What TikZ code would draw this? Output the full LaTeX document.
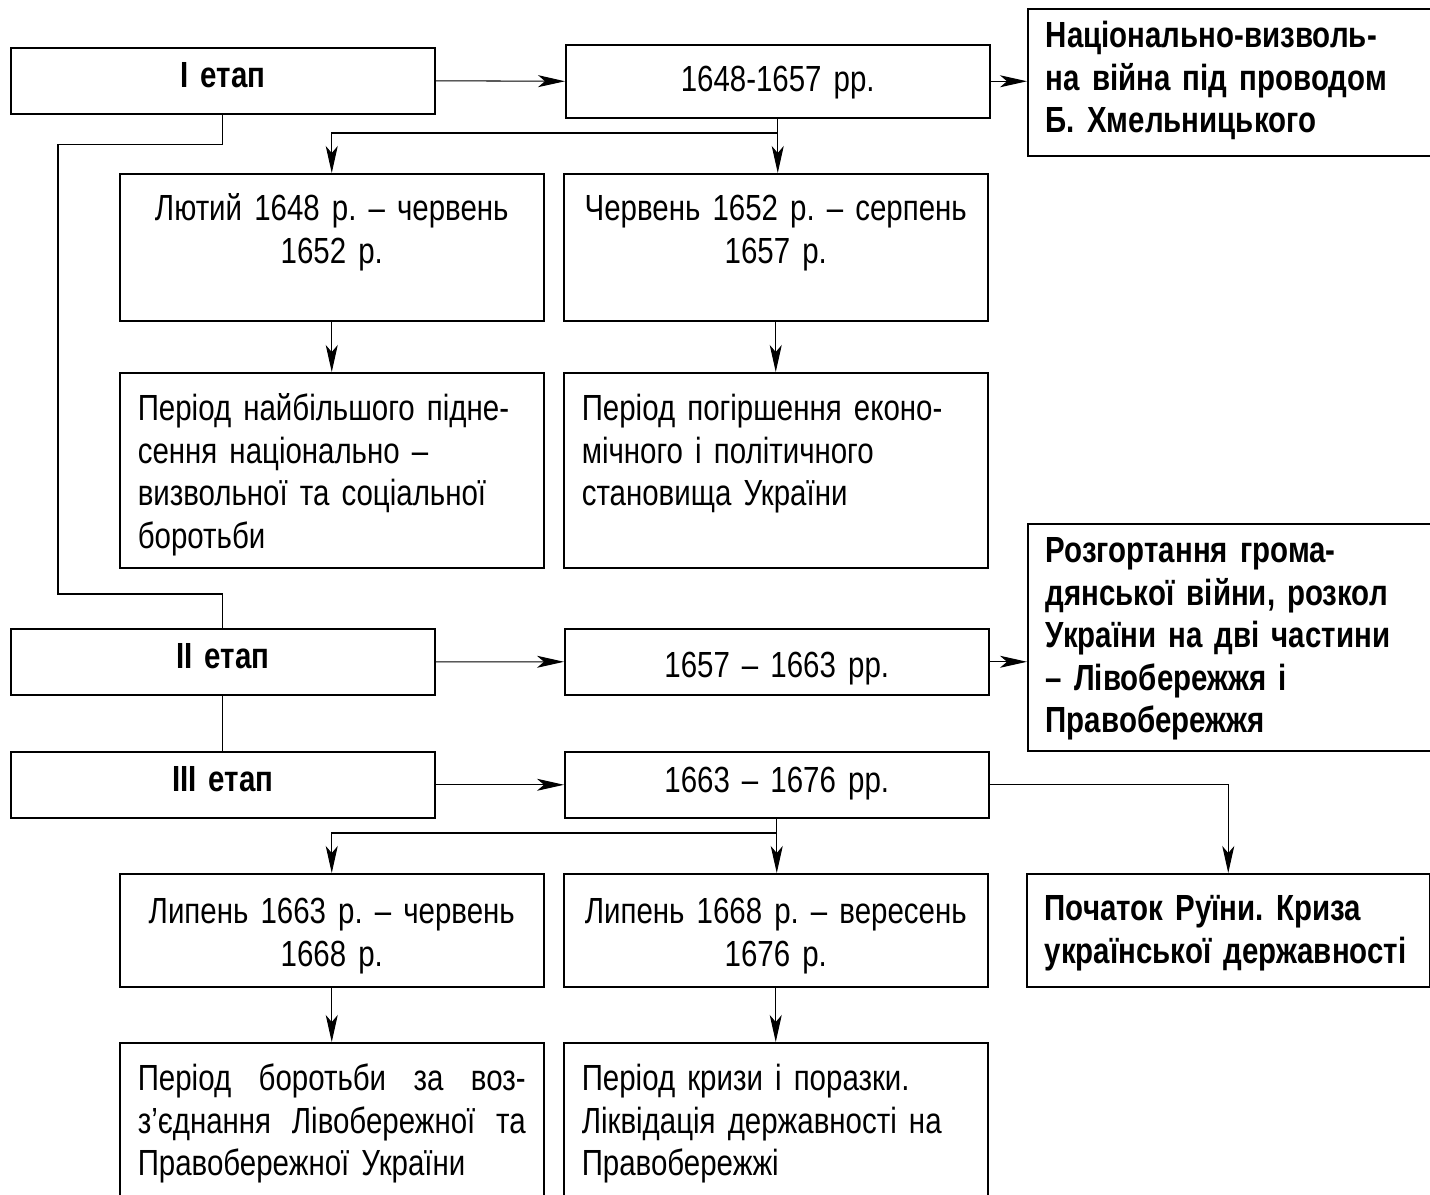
\documentclass[tikz,border=0pt]{standalone}
\usepackage{fontspec}
\setmainfont{Liberation Sans}[FakeStretch=0.81]
\usetikzlibrary{arrows.meta}
\begin{document}
\begin{tikzpicture}[x=0.02cm, y=-0.02cm,
  >={Stealth[length=0.54cm, width=0.24cm, inset=0.14cm]},
  box/.style={draw, line width=0.9pt, anchor=north west, inner xsep=0.36cm, inner ysep=0pt,
    text width=7.76cm, font=\fontsize{20.7pt}{24.2pt}\selectfont\frenchspacing},
  mid/.style={box, align=center},
  stage/.style={box, align=center, font=\fontsize{20.7pt}{24.2pt}\selectfont\bfseries,
    text height=0.8cm, text depth=0.52cm},
  txt/.style={box, align=left},
  res/.style={box, align=left, text width=7.34cm,
    font=\fontsize{20.7pt}{24.2pt}\selectfont\bfseries\frenchspacing},
  link/.style={line width=0.6pt}]
\clip (0,0) rectangle (1430,1195);
\fill[white] (0,0) rectangle (1430,1195);
% Stages (left column)
\node[stage] (etap1) at (10,47) {I етап};
\node[stage] (etap2) at (10,628) {II етап};
\node[stage] (etap3) at (10,751) {III етап};
% Years
\node[mid, text height=0.94cm, text depth=0.52cm] (period1) at (565,44) {1648-1657 рр.};
\node[mid, text height=0.98cm, text depth=0.34cm] (period2) at (564,628) {1657 – 1663 рр.};
\node[mid, text height=0.82cm, text depth=0.5cm] (period3) at (564,751) {1663 – 1676 рр.};
% Results (right column)
\node[res, text height=0.78cm, text depth=2.16cm] (res1) at (1027,8)
  {Національно-визволь-\\на війна під проводом\\Б. Хмельницького};
\node[res, text height=0.78cm, text depth=3.76cm] (res2) at (1027,523)
  {Розгортання грома-\\дянської війни, розкол\\України на дві частини\\– Лівобережжя і\\Правобережжя};
\node[res, text height=0.94cm, text depth=1.32cm] (res3) at (1026,873)
  {Початок Руїни. Криза\\української державності};
% First stage: sub-periods
\node[mid, text height=0.94cm, text depth=2cm] (sub1a) at (119,173) {Лютий 1648 р. – червень\\1652 р.};
\node[mid, text height=0.94cm, text depth=2cm] (sub1b) at (563,173) {Червень 1652 р. – серпень\\1657 р.};
\node[txt, text height=0.96cm, text depth=2.94cm] (desc1a) at (119,372)
  {Період найбільшого підне-\\сення національно –\\визвольної та соціальної\\боротьби};
\node[txt, text height=0.96cm, text depth=2.94cm] (desc1b) at (563,372)
  {Період погіршення еконо-\\мічного і політичного\\становища України};
% Third stage: sub-periods
\node[mid, text height=1cm, text depth=1.26cm] (sub3a) at (119,873) {Липень 1663 р. – червень\\1668 р.};
\node[mid, text height=1cm, text depth=1.26cm] (sub3b) at (563,873) {Липень 1668 р. – вересень\\1676 р.};
\node[txt, text height=0.96cm, text depth=4cm] (desc3a) at (119,1042)
  {Період\hfill боротьби\hfill за\hfill воз-\\з’єднання\hfill Лівобережної\hfill та\\Правобережної України};
\node[txt, text height=0.96cm, text depth=4cm] (desc3b) at (563,1042)
  {Період кризи і поразки.\\Ліквідація державності на\\Правобережжі};
% Connectors
\coordinate (fork1) at (777,133);
\coordinate (fork3) at (777,833);
\draw[link] (etap1.south) -- ++(0,30) -| (58,594) -| (etap2.north);
\draw[link] (etap2.south) -- (etap3.north);
\draw[link,->] (etap1.east) -- (period1.west);
\draw[link,->] (etap2.east) -- (period2.west);
\draw[link,->] (etap3.east) -- (period3.west);
\draw[link,->] (period1.east) -- (period1.east -| res1.west);
\draw[link,->] (period2.east) -- (period2.east -| res2.west);
\draw[link,->] (period3.east) -| (res3.north);
\draw[link,->] (period1.south) -- (period1.south |- sub1b.north);
\draw[link,->] (fork1) -| (sub1a.north);
\draw[link,->] (period3.south) -- (period3.south |- sub3b.north);
\draw[link,->] (fork3) -| (sub3a.north);
\draw[link,->] (sub1a.south) -- (desc1a.north);
\draw[link,->] (sub1b.south) -- (desc1b.north);
\draw[link,->] (sub3a.south) -- (desc3a.north);
\draw[link,->] (sub3b.south) -- (desc3b.north);
\end{tikzpicture}
\end{document}
